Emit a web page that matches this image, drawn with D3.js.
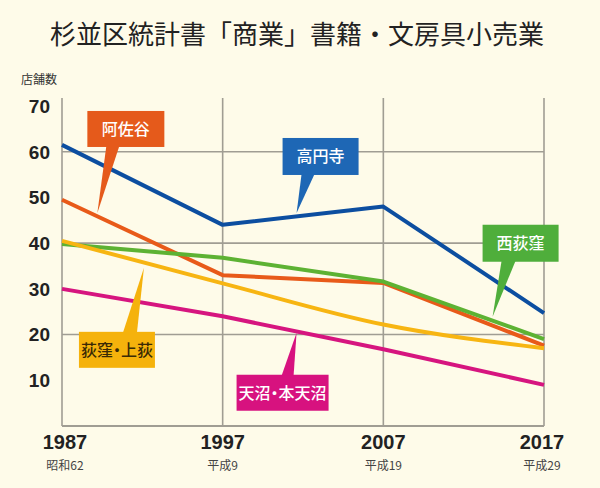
<!DOCTYPE html>
<html><head><meta charset="utf-8">
<script src="https://cdn.jsdelivr.net/npm/d3@7"></script>
<style>
html,body{margin:0;padding:0;background:#fefbe9;}
svg{display:block;}
.callout-text{font-feature-settings:"palt" 1;}
</style></head>
<body>
<svg id="chart" width="600" height="488"></svg>
<script>
// ---- data ----
const years = [1987, 1997, 2007, 2017];
const eraLabels = ["昭和62", "平成9", "平成19", "平成29"];
const yTicks = [10, 20, 30, 40, 50, 60, 70];
const gridValues = [20, 40, 60];
const seriesNames = ["高円寺", "阿佐谷", "西荻窪", "荻窪・上荻", "天沼・本天沼"];
const koenji = [61.5, 44, 48, 24.7];
const asagaya = [49.5, 33, 31.3, 17.6];
const nishiogikubo = [39.8, 36.8, 31.6, 19];
const ogikubo = [40.5, 31.2, 22.2, 17];
const amanuma = [30, 24, 16.8, 9];
const title = "杉並区統計書「商業」書籍・文房具小売業";
const yAxisTitle = "店舗数";

const svg = d3.select("#chart");
const W = 600, H = 488;
svg.append("rect").attr("width", W).attr("height", H).attr("fill", "#fefbe9");

const x = d3.scaleLinear().domain([1987, 2017]).range([62, 544]);
const y = d3.scaleLinear().domain([0, 70]).range([426, 106]);
const plotTop = 98;

// title
svg.append("text").attr("x", 297).attr("y", 44).attr("text-anchor", "middle")
  .attr("font-family", "'Noto Sans CJK JP'").attr("font-weight", 400)
  .attr("font-size", 26).attr("fill", "#222").text(title);
svg.append("text").attr("x", 21).attr("y", 84)
  .attr("font-family", "'Noto Sans CJK JP'").attr("font-size", 12)
  .attr("fill", "#333").text(yAxisTitle);

const gridColor = "#a09d93";
// horizontal grid
svg.append("g").selectAll("line").data(gridValues).join("line")
  .attr("x1", x(1987)).attr("x2", x(2017))
  .attr("y1", d => y(d)).attr("y2", d => y(d))
  .attr("stroke", gridColor).attr("stroke-width", 1.6);
// vertical grid
svg.append("g").selectAll("line").data(years).join("line")
  .attr("x1", d => x(d)).attr("x2", d => x(d))
  .attr("y1", plotTop).attr("y2", y(0))
  .attr("stroke", gridColor).attr("stroke-width", 1.6);
// bottom axis line
svg.append("line").attr("x1", x(1987)).attr("x2", x(2017))
  .attr("y1", y(0)).attr("y2", y(0)).attr("stroke", gridColor).attr("stroke-width", 1.8);

// y tick labels
svg.append("g").selectAll("text").data(yTicks).join("text")
  .attr("x", 50).attr("y", d => y(d)).attr("dy", "0.36em")
  .attr("text-anchor", "end")
  .attr("font-family", "'Liberation Sans', Arial, sans-serif").attr("font-weight", "bold")
  .attr("font-size", 19).attr("fill", "#222").text(d => d);

// x labels
const xl = svg.append("g");
xl.selectAll("text.yr").data(years).join("text").attr("class", "yr")
  .attr("x", (d, i) => x(d) + (i === 0 ? 3 : (i === 3 ? -2 : 0))).attr("y", 449).attr("text-anchor", "middle")
  .attr("font-family", "'Liberation Sans', Arial, sans-serif").attr("font-weight", "bold")
  .attr("font-size", 20).attr("fill", "#222").text(d => d);
xl.selectAll("text.era").data(eraLabels).join("text").attr("class", "era")
  .attr("x", (d, i) => x(years[i]) + (i === 0 ? 3 : (i === 3 ? -2 : 0))).attr("y", 470).attr("text-anchor", "middle")
  .attr("font-family", "'Noto Sans CJK JP'").attr("font-size", 12)
  .attr("fill", "#444").text(d => d);

// lines
const series = [
  {name: seriesNames[1], values: asagaya, color: "#e85a19", curve: d3.curveLinear},
  {name: seriesNames[0], values: koenji, color: "#0c4ea0", curve: d3.curveLinear},
  {name: seriesNames[2], values: nishiogikubo, color: "#5db233", curve: d3.curveLinear},
  {name: seriesNames[3], values: ogikubo, color: "#f7b512", curve: d3.curveMonotoneX},
  {name: seriesNames[4], values: amanuma, color: "#d6157f", curve: d3.curveLinear}
];
series.forEach(s => {
  const line = d3.line().x((d, i) => x(years[i])).y(d => y(d)).curve(s.curve);
  svg.append("path").attr("d", line(s.values)).attr("fill", "none")
    .attr("stroke", s.color).attr("stroke-width", 4).attr("stroke-linejoin", "round");
});

// callouts: tip in data units, box offsets in px relative to tip
const callouts = [
  {text: seriesNames[1], tip: [1989.2, 46.6], box: [-10, -102, 77, 36], base: [9, 22], fill: "#e55a1b", tc: "#fff"},
  {text: seriesNames[0], tip: [2001.6, 46.6], box: [-14, -75, 76, 37], base: [5, 18], fill: "#1e67b5", tc: "#fff"},
  {text: seriesNames[2], tip: [2013.8, 23.9], box: [-10, -92, 76, 37], base: [9, 23], fill: "#4fae3b", tc: "#fff"},
  {text: seriesNames[3], tip: [1992.1, 34.6], box: [-65, 64, 76, 36], base: [-21, -7], fill: "#f5b20c", tc: "#3a2a05"},
  {text: seriesNames[4], tip: [2001.6, 20.4], box: [-60, 42, 92, 36], base: [-15, -3], fill: "#d7127f", tc: "#fff"}
];
callouts.forEach(c => {
  const tx = x(c.tip[0]), ty = y(c.tip[1]);
  const [bx, by, bw, bh] = c.box;
  const g = svg.append("g");
  g.append("rect").attr("x", tx + bx).attr("y", ty + by).attr("width", bw).attr("height", bh).attr("fill", c.fill);
  const baseY = by < 0 ? ty + by + bh - 1 : ty + by + 1;
  g.append("path").attr("d", `M${tx + c.base[0]},${baseY} L${tx},${ty} L${tx + c.base[1]},${baseY} Z`).attr("fill", c.fill);
  g.append("text").attr("class", "callout-text")
    .attr("x", tx + bx + bw / 2).attr("y", ty + by + bh / 2).attr("dy", "0.36em")
    .attr("text-anchor", "middle").attr("font-family", "'Noto Sans CJK JP'").attr("font-weight", 500)
    .attr("font-size", 16).attr("fill", c.tc).text(c.text);
});
</script>
</body></html>
